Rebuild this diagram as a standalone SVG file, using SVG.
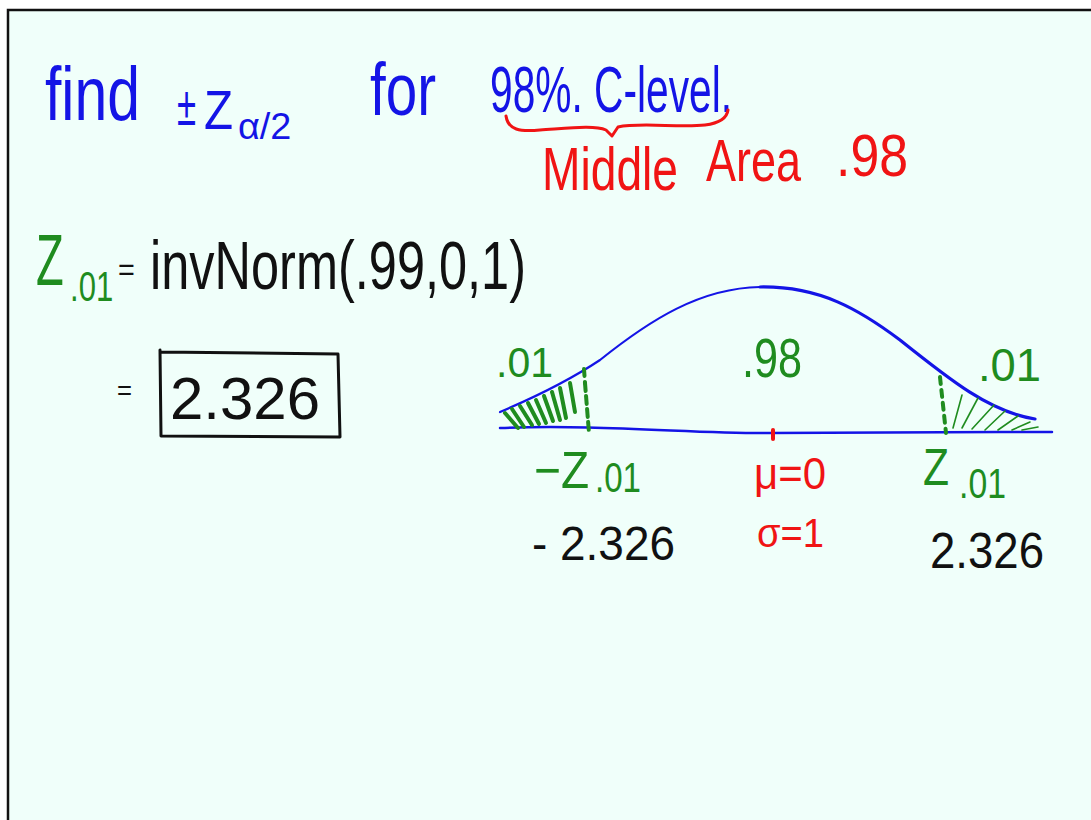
<svg xmlns="http://www.w3.org/2000/svg" width="1091" height="820" viewBox="0 0 1091 820">
<style>
text{font-family:"Liberation Sans","DejaVu Sans",sans-serif;}
.b{fill:#1414e6;}
.r{fill:#f01414;}
.g{fill:#1f8c1f;}
.k{fill:#111;}
.ln{fill:none;stroke-linecap:round;stroke-linejoin:round;}
</style>
<rect x="0" y="0" width="1091" height="820" fill="#ffffff"/>
<rect x="8" y="10" width="1100" height="830" fill="#f0fffa" stroke="#111" stroke-width="2.5"/>

<g id="title">
<text class="b" x="45" y="120" font-size="76" textLength="95" lengthAdjust="spacingAndGlyphs">find</text>
<text class="b" transform="translate(177 125) scale(0.62 1)" x="0" y="0" font-size="56">±</text>
<text class="b" transform="translate(204 129) scale(0.85 1)" x="0" y="0" font-size="56">Z</text>
<text class="b" transform="translate(238 139) scale(1.05 1)" x="0" y="0" font-size="36">α/2</text>
<text class="b" x="370" y="115" font-size="74" textLength="66" lengthAdjust="spacingAndGlyphs">for</text>
<text class="b" x="490" y="112" font-size="64" textLength="242" lengthAdjust="spacingAndGlyphs">98%. C-level.</text>
</g>

<g id="brace">
<path class="ln" d="M506 116 C508 130 520 132 540 130 C570 128 595 125 606 130 L612 136 L618 127 C640 122 680 128 705 125 C720 123 727 118 728 110" stroke="#f01414" stroke-width="3"/>
</g>

<g id="middle-area">
<text class="r" transform="translate(542 190) scale(0.745 1)" x="0" y="0" font-size="62">Middle</text>
<text class="r" transform="translate(706 181) scale(0.75 1)" x="0" y="0" font-size="60">Area</text>
<text class="r" x="836" y="176" font-size="60" textLength="72" lengthAdjust="spacingAndGlyphs">.98</text>
</g>

<g id="formula">
<text class="g" transform="translate(36 285) scale(0.63 1)" x="0" y="0" font-size="72">Z</text>
<text class="g" transform="translate(70 301) scale(0.74 1)" x="0" y="0" font-size="42">.01</text>
<text class="k" transform="translate(118 280) scale(0.9 1)" x="0" y="0" font-size="32">=</text>
<text class="k" x="150" y="289" font-size="68" textLength="376" lengthAdjust="spacingAndGlyphs">invNorm(.99,0,1)</text>
</g>

<g id="answer">
<text class="k" x="117" y="400" font-size="28" textLength="15" lengthAdjust="spacingAndGlyphs">=</text>
<path class="ln" d="M160 350 L161 436 L340 437 L338 354 L160 352" stroke="#111" stroke-width="3"/>
<text class="k" x="170" y="419" font-size="60" textLength="150" lengthAdjust="spacingAndGlyphs">2.326</text>
</g>

<g id="curve">
<path class="ln" d="M500 412 C540 395 570 380 600 360 C650 320 700 288 760 287" stroke="#1414e6" stroke-width="2.2"/>
<path class="ln" d="M760 287 C820 286 860 310 900 340 C950 380 990 412 1035 419" stroke="#1414e6" stroke-width="3.2"/>
<path class="ln" d="M500 428 C600 424 700 434 770 433 S950 432 1052 432" stroke="#1414e6" stroke-width="2.5"/>
<path class="ln" d="M773 430 L773 439" stroke="#f01414" stroke-width="4"/>
</g>

<g id="shading">
<g stroke="#1f8c1f" class="ln" stroke-width="4">
<path d="M505 413 L518 428"/>
<path d="M512 409 L524 427"/>
<path d="M520 406 L532 425"/>
<path d="M528 403 L539 424"/>
<path d="M536 400 L546 423"/>
<path d="M544 396 L553 421"/>
<path d="M552 392 L560 420"/>
<path d="M560 388 L566 418"/>
<path d="M570 383 L575 412"/>
<path d="M584 369 L585 383" stroke-dasharray="7 6"/>
<path d="M585 383 L589 433" stroke-dasharray="8 5"/>
</g>
<g stroke="#1f8c1f" class="ln" stroke-width="1.6">
<path d="M953 428 L962 395"/>
<path d="M962 428 L978 398"/>
<path d="M972 429 L994 405"/>
<path d="M985 430 L1005 411"/>
<path d="M998 430 L1018 416"/>
<path d="M1012 430 L1030 422"/>
<path d="M1022 430 L1038 427"/>
</g>
<path class="ln" d="M940 377 L946 433" stroke="#1f8c1f" stroke-width="4" stroke-dasharray="7 6"/>
</g>

<g id="labels">
<text class="g" x="496" y="377" font-size="42" textLength="57" lengthAdjust="spacingAndGlyphs">.01</text>
<text class="g" x="742" y="377" font-size="56" textLength="60" lengthAdjust="spacingAndGlyphs">.98</text>
<text class="g" x="978" y="381" font-size="46" textLength="63" lengthAdjust="spacingAndGlyphs">.01</text>
<text class="g" x="534" y="488" font-size="52" textLength="55" lengthAdjust="spacingAndGlyphs">−Z</text>
<text class="g" x="595" y="492" font-size="42" textLength="46" lengthAdjust="spacingAndGlyphs">.01</text>
<text class="r" x="754" y="489" font-size="44" textLength="72" lengthAdjust="spacingAndGlyphs">μ=0</text>
<text class="g" transform="translate(923 485) scale(0.82 1)" x="0" y="0" font-size="52">Z</text>
<text class="g" x="959" y="498" font-size="42" textLength="47" lengthAdjust="spacingAndGlyphs">.01</text>
<text class="k" x="532" y="560" font-size="48" textLength="143" lengthAdjust="spacingAndGlyphs">- 2.326</text>
<text class="r" x="757" y="547" font-size="40" textLength="67" lengthAdjust="spacingAndGlyphs">σ=1</text>
<text class="k" x="930" y="568" font-size="50" textLength="114" lengthAdjust="spacingAndGlyphs">2.326</text>
</g>
</svg>
